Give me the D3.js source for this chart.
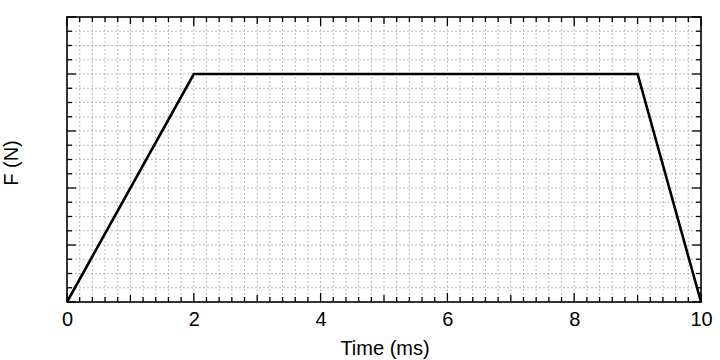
<!DOCTYPE html>
<html>
<head>
<meta charset="utf-8">
<script src="https://cdn.jsdelivr.net/npm/d3@7"></script>
<style>
  body { margin: 0; background: #fff; }
  svg { font-family: "Liberation Sans", Arial, sans-serif; }
</style>
</head>
<body>
<div id="chart"></div>
<script>
'use strict';

// trapezoid force pulse
var times = [0, 2, 9, 10];
var forces = [0, 4, 4, 0];
var xLabelTicks = [0, 2, 4, 6, 8, 10];

var W = 720, H = 360;
var M = { left: 67, right: 19, top: 17, bottom: 58 };
var iw = W - M.left - M.right, ih = H - M.top - M.bottom;

var svg = d3.select("#chart").append("svg")
    .attr("width", W).attr("height", H);
var g = svg.append("g").attr("transform", "translate(" + M.left + "," + M.top + ")");

var x = d3.scaleLinear().domain([0, 10]).range([0, iw]);
var y = d3.scaleLinear().domain([0, 5]).range([ih, 0]);

var xMinor = d3.range(0, 10.001, 0.2);
var yMinor = d3.range(0, 5.001, 0.25);

// dotted grid
g.append("g").selectAll("line").data(xMinor.slice(1, -1)).enter().append("line")
    .attr("x1", function(d) { return x(d); }).attr("x2", function(d) { return x(d); })
    .attr("y1", 0).attr("y2", ih)
    .attr("stroke", "#aaa").attr("stroke-width", 0.8).attr("stroke-dasharray", "2,2");
g.append("g").selectAll("line").data(yMinor.slice(1, -1)).enter().append("line")
    .attr("y1", function(d) { return y(d); }).attr("y2", function(d) { return y(d); })
    .attr("x1", 0).attr("x2", iw)
    .attr("stroke", "#aaa").attr("stroke-width", 0.8).attr("stroke-dasharray", "2,2");

// ticks pointing inward on all sides
function xTickLen(d) {
    var r = Math.round(d * 5);
    if (r % 10 === 0) return 9;
    if (r % 5 === 0) return 7;
    return 5;
}
function yTickLen(d) {
    return Math.round(d * 4) % 4 === 0 ? 9 : 5;
}
var ticks = g.append("g").attr("stroke", "#000").attr("stroke-width", 1.3);
xMinor.forEach(function(d) {
    var L = xTickLen(d);
    ticks.append("line").attr("x1", x(d)).attr("x2", x(d)).attr("y1", ih).attr("y2", ih - L);
    ticks.append("line").attr("x1", x(d)).attr("x2", x(d)).attr("y1", 0).attr("y2", L);
});
yMinor.forEach(function(d) {
    var L = yTickLen(d);
    ticks.append("line").attr("y1", y(d)).attr("y2", y(d)).attr("x1", 0).attr("x2", L);
    ticks.append("line").attr("y1", y(d)).attr("y2", y(d)).attr("x1", iw).attr("x2", iw - L);
});

// frame
g.append("rect").attr("width", iw).attr("height", ih)
    .attr("fill", "none").attr("stroke", "#000").attr("stroke-width", 1.6);

// tick labels
var xAxis = d3.axisBottom(x).tickValues(xLabelTicks).tickSize(0).tickPadding(10);
g.append("g").attr("transform", "translate(0," + ih + ")").call(xAxis)
    .call(function(s) { s.select(".domain").remove(); })
    .selectAll("text").attr("font-size", 20).attr("fill", "#000")
    .attr("font-family", "Liberation Sans, Arial, sans-serif");

// the pulse
var pts = d3.zip(times, forces);
g.append("path").datum(pts)
    .attr("fill", "none").attr("stroke", "#000").attr("stroke-width", 2.6)
    .attr("stroke-linejoin", "miter")
    .attr("d", d3.line().x(function(d) { return x(d[0]); }).y(function(d) { return y(d[1]); }));

// axis titles
svg.append("text").attr("x", 385).attr("y", 355)
    .attr("text-anchor", "middle").attr("font-size", 20).text("Time (ms)");
svg.append("text").attr("transform", "translate(18,163) rotate(-90)")
    .attr("text-anchor", "middle").attr("font-size", 20).text("F (N)");
</script>
</body>
</html>
